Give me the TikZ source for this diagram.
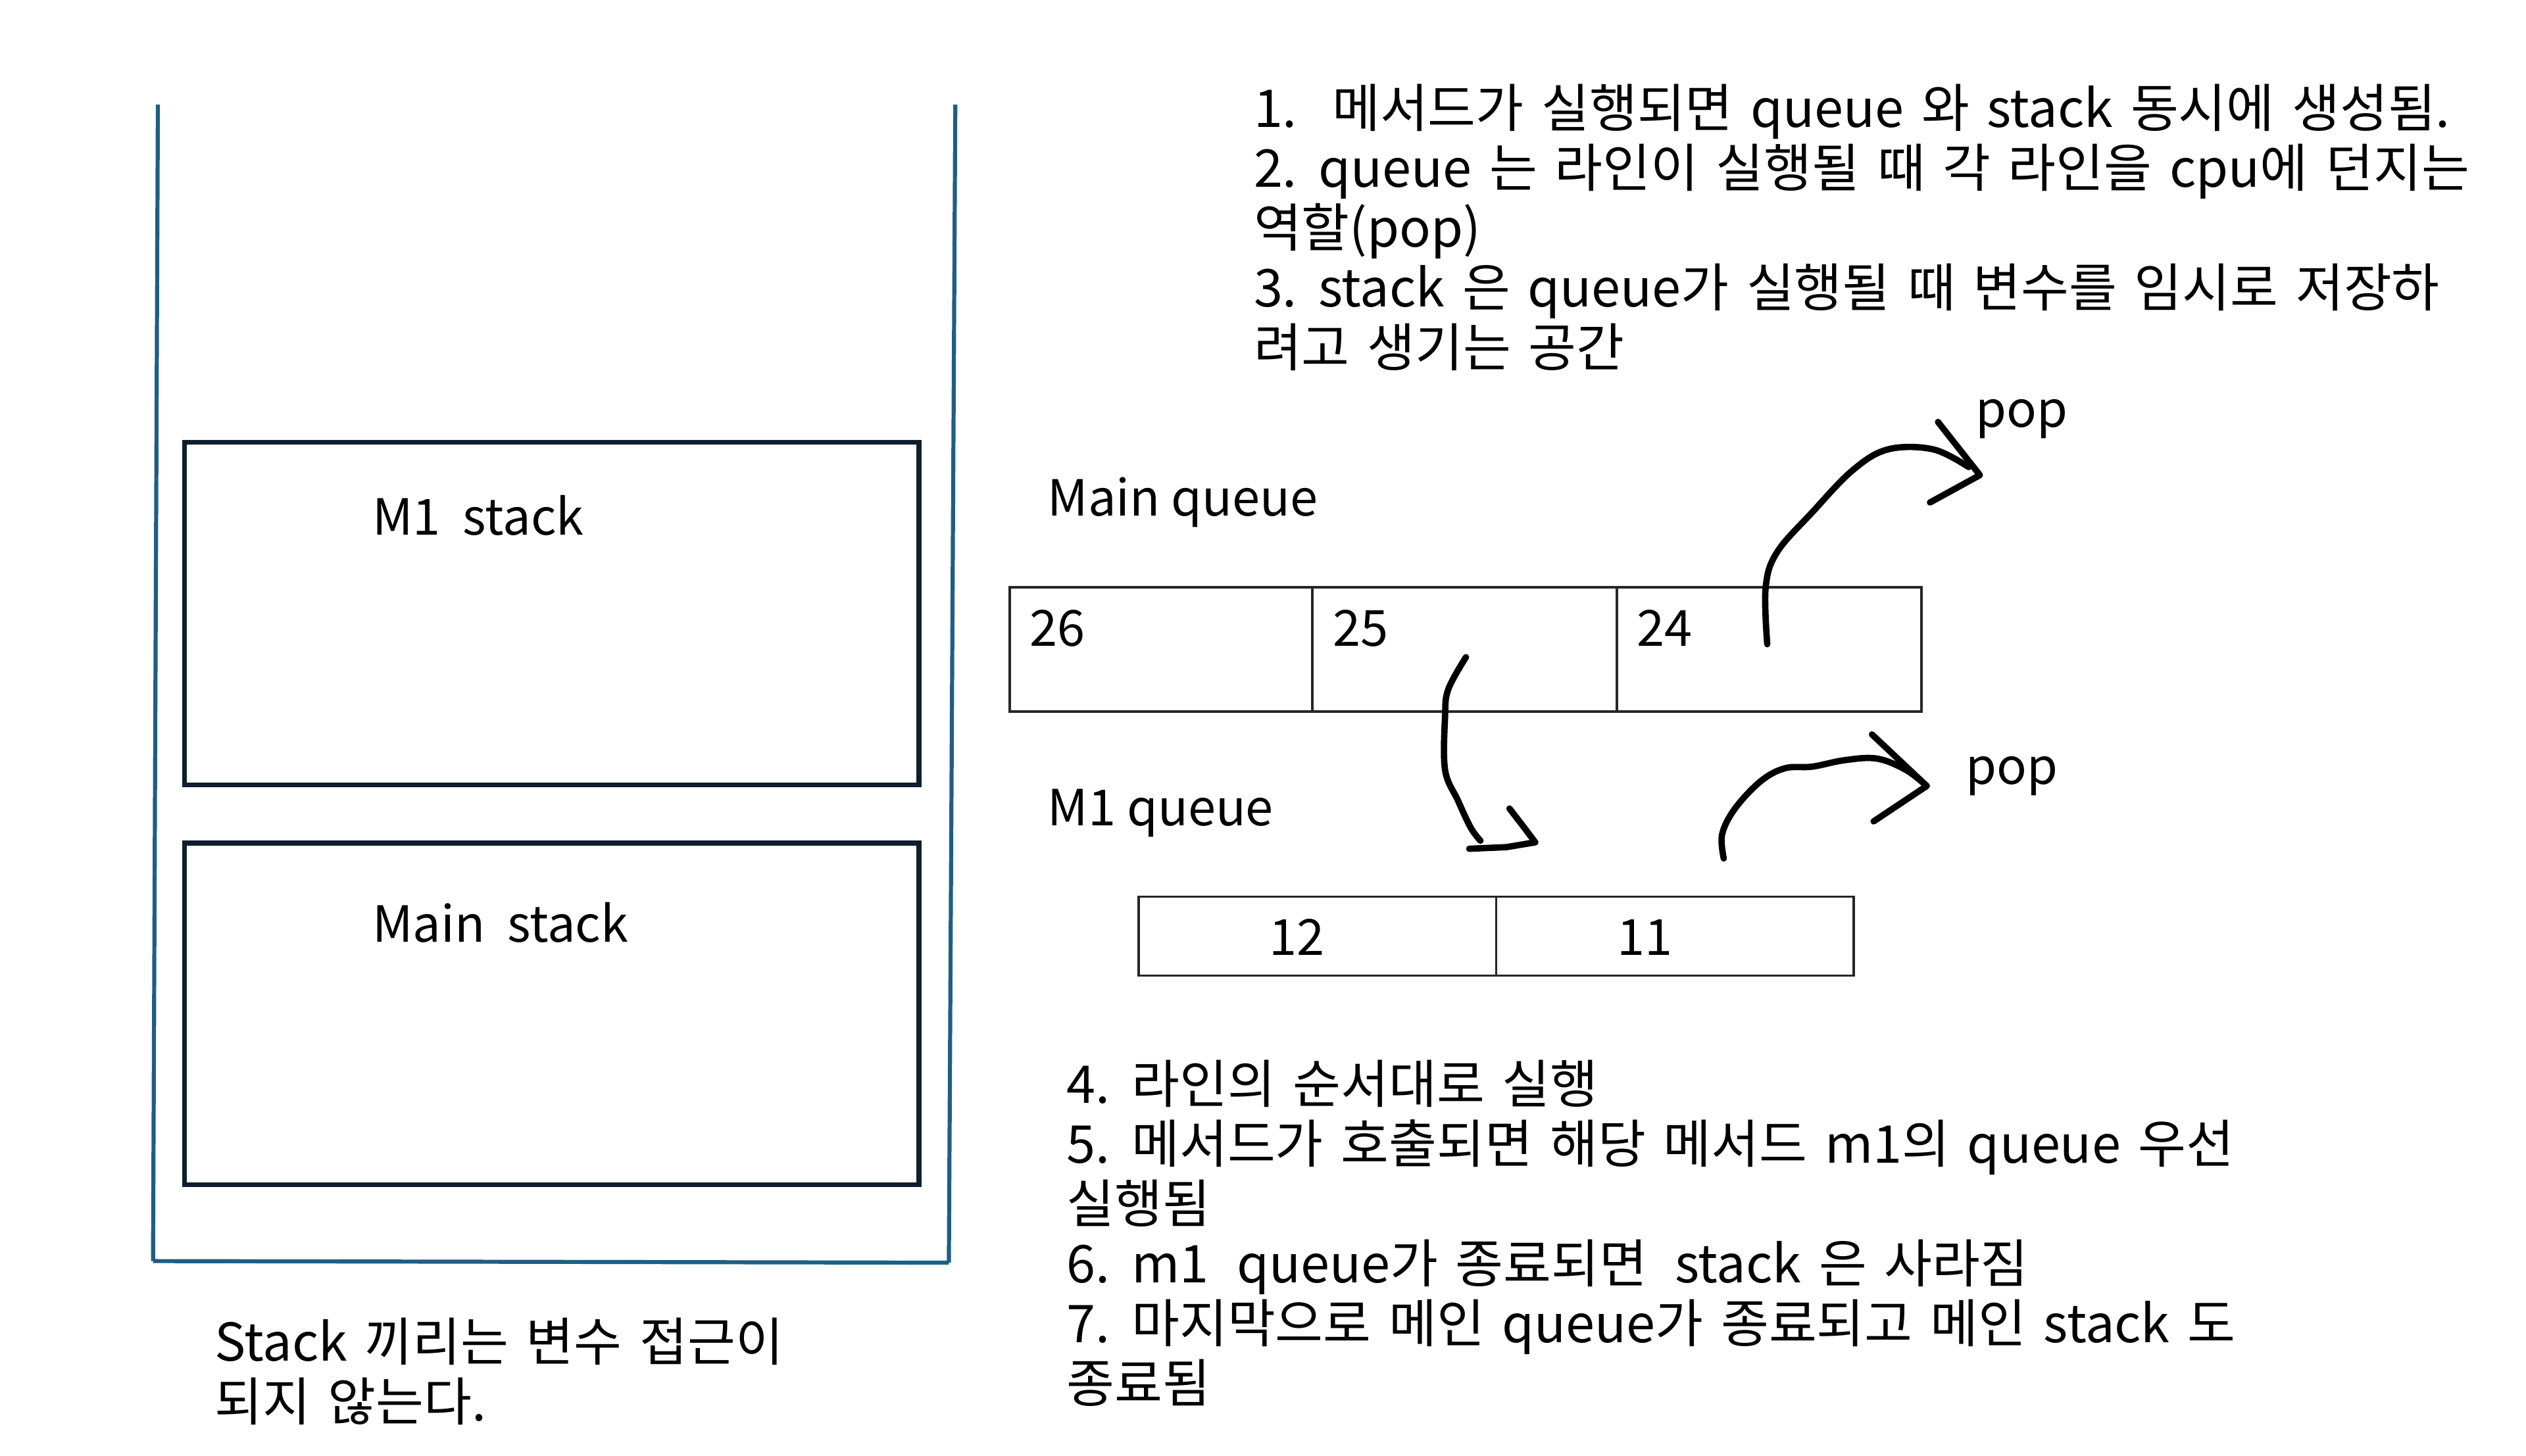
\documentclass[tikz,border=0pt]{standalone}
\usepackage{fontspec}
\setmainfont{Noto Sans CJK KR}
\newfontfamily\widesp[WordSpace=1.5]{Noto Sans CJK KR}
\definecolor{stackblue}{HTML}{1F5E84}
\definecolor{navy}{HTML}{0E1E2C}
\begin{document}
\begin{tikzpicture}[x=0.025cm,y=-0.025cm,
  txt/.style={inner sep=0pt,anchor=north west,align=left,font=\widesp\fontsize{23}{26.4}\selectfont},
  lbl/.style={inner sep=0pt,anchor=west,font=\fontsize{22}{26.4}\selectfont},
  stackbox/.style={draw=navy,line width=2.1pt},
  cell/.style={draw=black!85,line width=1.1pt},
  wall/.style={draw=stackblue,line width=1.8pt},
  hand/.style={draw=black,line width=2.8pt,line cap=round,line join=round}]
\useasboundingbox (0,0) rectangle (1568,904);
% stack container
\coordinate (wl1) at (98,65); \coordinate (wl2) at (95,783);
\coordinate (wr1) at (593,65); \coordinate (wr2) at (589,784);
\draw[wall] (wl1) -- (wl2);
\draw[wall] (wr1) -- (wr2);
\draw[wall] (wl2) -- (wr2);
% stack frames
\node[stackbox,minimum width=456*0.025cm,minimum height=213*0.025cm,anchor=north west,inner sep=0] (m1s) at (113,273) {};
\node[stackbox,minimum width=456*0.025cm,minimum height=212*0.025cm,anchor=north west,inner sep=0] (mains) at (113,522) {};
\node[lbl] (m1sl) at (231,320) {M1\ \ stack};
\node[lbl] (mainsl) at (231,573) {Main\ \ stack};
\node[txt] (note) at (133,818) {Stack 끼리는 변수 접근이\\되지 않는다.};
% top notes
\node[txt] (top) at (778,52) {1.\ \ 메서드가 실행되면 queue 와 stack 동시에 생성됨.\\2. queue 는 라인이 실행될 때 각 라인을 cpu에 던지는\\역할(pop)\\3. stack 은 queue가 실행될 때 변수를 임시로 저장하\\려고 생기는 공간};
% main queue
\node[lbl] (mq) at (650,312) {Main queue};
\node[cell,minimum width=188*0.025cm,minimum height=77*0.025cm,anchor=north west,inner sep=0] (c26) at (626,364) {};
\node[cell,minimum width=189*0.025cm,minimum height=77*0.025cm,anchor=north west,inner sep=0] (c25) at (814,364) {};
\node[cell,minimum width=189*0.025cm,minimum height=77*0.025cm,anchor=north west,inner sep=0] (c24) at (1003,364) {};
\node[lbl] at (639,390) {26};
\node[lbl] at (827,390) {25};
\node[lbl] at (1016,390) {24};
% m1 queue
\node[lbl] (mq1) at (650,505) {M1 queue};
\node[cell,minimum width=222*0.025cm,minimum height=49*0.025cm,anchor=north west,inner sep=0] (c12) at (706,556) {};
\node[cell,minimum width=222*0.025cm,minimum height=49*0.025cm,anchor=north west,inner sep=0] (c11) at (928,556) {};
\node[inner sep=0,font=\fontsize{22}{26.4}\selectfont] at (805,582) {12};
\node[inner sep=0,font=\fontsize{22}{26.4}\selectfont] at (1021,582) {11};
% pop labels
\node[lbl] (pop1) at (1226,260) {pop};
\node[lbl] (pop2) at (1220,482) {pop};
% hand-drawn arrows
\draw[hand] plot[smooth,tension=0.6] coordinates {(1097,400) (1096,365) (1103,343) (1125,318) (1150,292) (1172,279) (1200,279) (1222,290)};
\draw[hand] (1203,262) -- (1229,295) -- (1198,312);
\draw[hand] plot[smooth,tension=0.6] coordinates {(910,408) (899,428) (897,445) (897,478) (905,497) (913,514) (919,522)};
\draw[hand] (937,502) -- (947,515) -- (953,523) -- (935,526) -- (912,527);
\draw[hand] plot[smooth,tension=0.6] coordinates {(1070,533) (1069,518) (1077,502) (1093,485) (1108,477) (1125,476) (1145,472) (1165,471) (1183,478) (1196,488)};
\draw[hand] (1162,456) -- (1196,488) -- (1163,510);
% bottom notes
\node[txt] (bottom) at (662,658) {4. 라인의 순서대로 실행\\5. 메서드가 호출되면 해당 메서드 m1의 queue 우선\\실행됨\\6. m1\kern0.2em\ queue가 종료되면\kern0.2em\ stack 은 사라짐\\7. 마지막으로 메인 queue가 종료되고 메인 stack 도\\종료됨};
\end{tikzpicture}
\end{document}
